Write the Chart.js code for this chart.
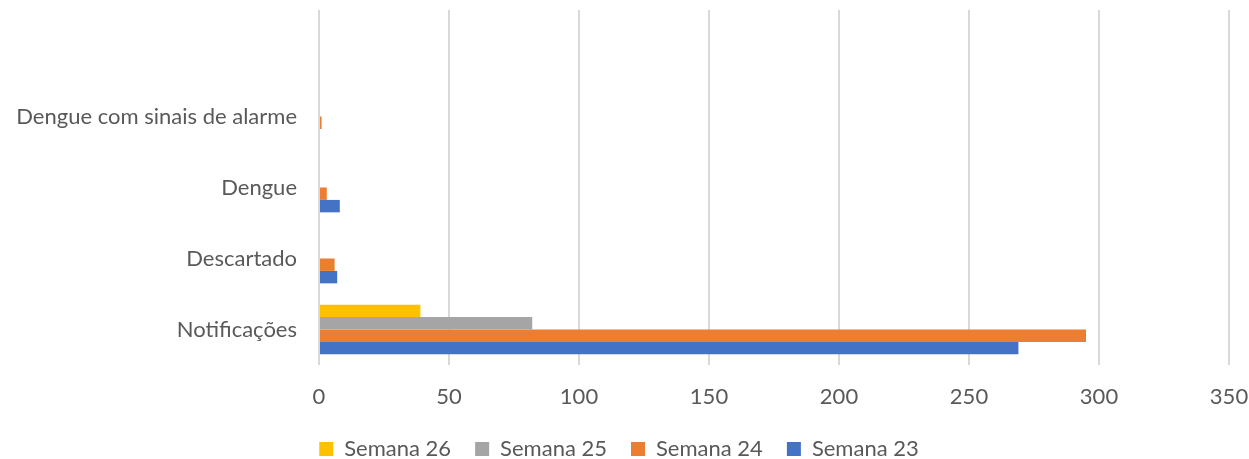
<!DOCTYPE html>
<html>
<head>
<meta charset="utf-8">
<script src="https://cdn.jsdelivr.net/npm/chart.js@4/dist/chart.umd.min.js"></script>
<style>
html,body{margin:0;padding:0;background:#fff;}
#wrap{width:1249px;height:459px;position:relative;}
</style>
</head>
<body>
<div id="wrap"><canvas id="c" width="1249" height="459"></canvas></div>
<script>
// top entry is the empty slot the original chart leaves above the first category
const categories = ['', 'Dengue com sinais de alarme', 'Dengue', 'Descartado', 'Notificações'];
const seriesNames = ['Semana 26', 'Semana 25', 'Semana 24', 'Semana 23'];
const semana26 = [null, 0, 0, 0, 39];
const semana25 = [null, 0, 0, 0, 82];
const semana24 = [null, 1, 3, 6, 295];
const semana23 = [null, 0, 8, 7, 269];
const xTicks = [0, 50, 100, 150, 200, 250, 300, 350];
const colors = ['#FFC000', '#A5A5A5', '#ED7D31', '#4472C4'];

const FONT = 'Lato, "Open Sans", sans-serif';
const values = [semana26, semana25, semana24, semana23];

new Chart(document.getElementById('c'), {
  type: 'bar',
  data: {
    labels: categories,
    datasets: seriesNames.map((n, i) => ({
      label: n,
      data: values[i],
      backgroundColor: colors[i],
      borderWidth: 0,
      categoryPercentage: 0.7,
      barPercentage: 1.0
    }))
  },
  options: {
    indexAxis: 'y',
    responsive: false,
    animation: false,
    layout: { padding: { left: 9, right: 20, top: 10, bottom: -11 } },
    plugins: {
      tooltip: { enabled: false },
      legend: {
        position: 'bottom',
        labels: {
          font: { family: FONT, size: 22 },
          color: '#595959',
          boxWidth: 14,
          boxHeight: 14,
          padding: 24
        }
      }
    },
    scales: {
      x: {
        min: 0, max: 350,
        afterBuildTicks: (s) => { s.ticks = xTicks.map(v => ({ value: v })); },
        afterFit: (s) => { s.paddingLeft = 0; s.paddingRight = 0; s.height = 49; },
        grid: { color: '#D9D9D9', lineWidth: 2, drawTicks: false },
        border: { display: false },
        ticks: { font: { family: FONT, size: 22 }, color: '#595959', padding: 19 }
      },
      y: {
        grid: { display: false, drawTicks: false },
        border: { display: false },
        afterFit: (s) => { s.width = 310; s.paddingTop = 0; s.paddingBottom = 0; },
        ticks: { font: { family: FONT, size: 22 }, color: '#595959', padding: 22 }
      }
    }
  }
});
</script>
</body>
</html>
